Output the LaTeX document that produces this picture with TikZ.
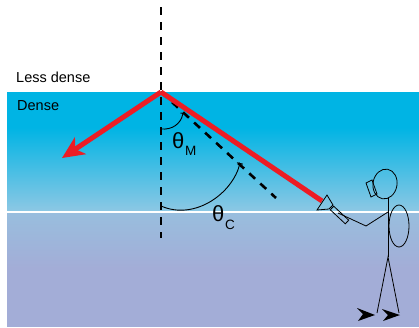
\documentclass[tikz,border=0pt]{standalone}
\usepackage{fontspec}
\setmainfont{Liberation Sans}
\usetikzlibrary{arrows.meta}
\definecolor{beam}{RGB}{237,28,36}
\definecolor{deep}{RGB}{0,180,228}
\definecolor{paleup}{RGB}{142,200,228}
\definecolor{palelow}{RGB}{152,190,222}
\definecolor{lav}{RGB}{163,173,215}
\begin{document}
\begin{tikzpicture}[x=1pt,y=-1pt,
  ray/.style={draw=beam,line width=5pt},
  normalline/.style={black,line width=2.6pt,dash pattern=on 8pt off 7pt},
  anglearc/.style={black,line width=0.9pt},
  figure/.style={black,line width=0.8pt},
  lbl/.style={font=\fontsize{14.5}{16}\selectfont,anchor=base west,inner sep=0pt},
  greek/.style={font=\fontsize{22}{24}\selectfont,anchor=base west,inner sep=0pt},
  subscr/.style={font=\fontsize{13.5}{15}\selectfont,anchor=base west,inner sep=0pt}]
\useasboundingbox (0,0) rectangle (419,327);
\fill[white] (0,0) rectangle (419,327);
% water layers
\fill[deep] (7,92) rectangle (419,128);
\shade[top color=deep,bottom color=paleup] (7,127.5) rectangle (419,212);
\shade[top color=palelow,bottom color=lav] (7,212) rectangle (419,268);
\fill[lav] (7,267.5) rectangle (419,327);
\draw[white,line width=1.3pt] (7,212) -- (419,212);

% labels of the two media
\node[lbl] (less) at (16,82) {Less dense};
\node[lbl] (dense) at (17,110) {Dense};

% key points
\coordinate (V) at (161,92);
\coordinate (Ntop) at (161,7);
\coordinate (Nbot) at (161,238);
\coordinate (Dend) at (276,198);
\coordinate (Lamp) at (322,201);
\coordinate (Tip) at (62,158);

% normal and critical-angle direction
\draw[normalline] (Ntop) -- (Nbot);
\draw[normalline] (V) -- (Dend);

% light rays
\draw[ray] (V) -- (Lamp);
\draw[ray,-{Stealth[length=22pt,width=20pt,inset=6pt]}] (V) -- (Tip);

% angle arcs
\coordinate (aM1) at (161,129);
\coordinate (aM2) at (183,113);
\coordinate (aC1) at (161,206);
\coordinate (aC2) at (240,163);
\draw[anglearc,-{Bar[width=5pt]}] (aM1) .. controls (172,130) and (181,124) .. (aM2);
\draw[anglearc,-{Bar[width=6pt]}] (aC1) .. controls (195,221) and (233,193) .. (aC2);

\node[greek] (thM) at (172,148) {θ};
\node[subscr] (subM) at (185,155) {M};
\node[greek] (thC) at (212,221) {θ};
\node[subscr] (subC) at (225,229) {C};

% diver with torch
\draw[figure,rotate around={-10:(385,184)}] (385,184) ellipse [x radius=12, y radius=15];
\draw[figure] (366,183) -- (372,180) -- (377,194) -- (371,197) -- cycle;
\draw[figure] (388,198) -- (388,257);
\draw[figure] (399,226) ellipse [x radius=10, y radius=21];
\draw[figure] (388,212) -- (366,226) -- (338,213);
\draw[figure] (333.7,206.2) -- (348.7,220.2) -- (345.3,223.8) -- (330.3,209.8) -- cycle;
\draw[figure] (317,210) -- (327,195) -- (333,205) -- (329,209) -- cycle;
\draw[figure] (377,313) -- (388,257) -- (399,313);
\fill[black] (375,315) -- (357,308) -- (363,314) -- (358,321) -- cycle;
\fill[black] (400,315) -- (382,309) -- (388,315) -- (383,321) -- cycle;
\end{tikzpicture}
\end{document}
